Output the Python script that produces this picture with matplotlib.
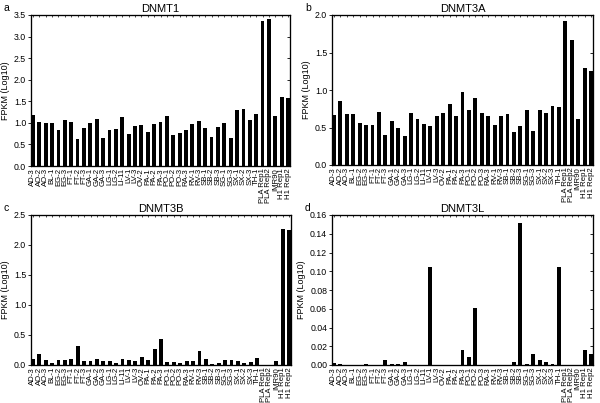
import matplotlib
matplotlib.use("Agg")
import matplotlib.pyplot as plt
import numpy as np

plt.rcParams['font.family'] = ['Liberation Sans', 'DejaVu Sans']

samples = ["AD-3", "AO-2", "AO-3", "BL-1", "EG-2", "EG-3", "FT-1", "FT-2", "FT-3",
           "GA-1", "GA-2", "GA-3", "LG-1", "LG-2", "LI-11", "LV-1", "LV-3", "OV-2",
           "PA-1", "PA-2", "PA-3", "PO-1", "PO-2", "PO-3", "RA-3", "RV-1", "RV-3",
           "SB-1", "SB-2", "SB-3", "SG-1", "SG-3", "SX-1", "SX-2", "SX-3", "TH-1",
           "PLA Rep1", "PLA Rep2", "IMR90", "H1 Rep1", "H1 Rep2"]

dnmt1 = [1.19, 1.02, 0.99, 0.99, 0.83, 1.07, 1.02, 0.62, 0.88, 0.99, 1.09, 0.64,
         0.84, 0.86, 1.14, 0.74, 0.92, 0.95, 0.78, 0.98, 1.02, 1.16, 0.73, 0.76,
         0.83, 0.98, 1.05, 0.88, 0.67, 0.91, 1.00, 0.66, 1.29, 1.32, 1.07, 1.21,
         3.36, 3.41, 1.16, 1.60, 1.57]

dnmt3a = [0.67, 0.86, 0.68, 0.68, 0.56, 0.53, 0.53, 0.71, 0.40, 0.59, 0.50, 0.39,
          0.70, 0.62, 0.55, 0.52, 0.66, 0.69, 0.81, 0.65, 0.97, 0.74, 0.89, 0.69,
          0.65, 0.54, 0.65, 0.68, 0.44, 0.52, 0.73, 0.46, 0.73, 0.70, 0.79, 0.77,
          1.92, 1.67, 0.62, 1.29, 1.26]

dnmt3b = [0.095, 0.18, 0.085, 0.035, 0.09, 0.08, 0.10, 0.31, 0.06, 0.07, 0.10, 0.075,
          0.06, 0.035, 0.095, 0.09, 0.07, 0.13, 0.085, 0.265, 0.43, 0.045, 0.045, 0.035,
          0.07, 0.07, 0.24, 0.105, 0.01, 0.035, 0.08, 0.08, 0.075, 0.04, 0.055, 0.12,
          0.005, 0.005, 0.06, 2.26, 2.245]

dnmt3l = [0.002, 0.001, 0.0003, 0.0, 0.0, 0.0015, 0.0005, 0.0005, 0.005, 0.0015, 0.0008,
          0.003, 0.0, 0.0002, 0.0002, 0.105, 0.0005, 0.0, 0.0002, 0.0005, 0.0158, 0.0082,
          0.061, 0.0002, 0.0005, 0.0, 0.0002, 0.0, 0.003, 0.152, 0.0015, 0.0115, 0.0055,
          0.003, 0.0015, 0.105, 0.0, 0.0, 0.0002, 0.0163, 0.0115]

panels = [
    ("a", "DNMT1", dnmt1, 3.5, np.arange(0, 3.51, 0.5), "%.1f"),
    ("b", "DNMT3A", dnmt3a, 2.0, np.arange(0, 2.01, 0.5), "%.1f"),
    ("c", "DNMT3B", dnmt3b, 2.5, np.arange(0, 2.51, 0.5), "%.1f"),
    ("d", "DNMT3L", dnmt3l, 0.16, np.arange(0, 0.161, 0.02), "%.2f"),
]

W, H = 600, 403
# axes boxes in pixels: left, top, right, bottom
boxes = [(31, 15, 290, 166), (332, 15, 593, 165),
         (31, 215, 291, 365), (332, 215, 593, 365)]

fig = plt.figure(figsize=(6, 4.03), dpi=100)
x = np.arange(len(samples))

for (letter, title, vals, ymax, yt, fmt), (l, t, r, b) in zip(panels, boxes):
    ax = fig.add_axes([l / W, 1 - b / H, (r - l) / W, (b - t) / H])
    ax.bar(x, vals, width=0.6, color='black')
    ax.set_xlim(-0.3, len(samples) - 0.7)
    ax.set_ylim(0, ymax)
    ax.set_yticks(yt)
    ax.set_yticklabels([fmt % v for v in yt], fontsize=6.3)
    ax.set_xticks(x)
    ax.set_xticklabels(samples, rotation=90, fontsize=5.6)
    ax.tick_params(axis='x', length=0, pad=1.5, top=True)
    ax.tick_params(axis='x', which='major', top=True, direction='in')
    ax.tick_params(axis='y', direction='out', length=2, pad=1.5, width=0.6)
    ax.set_ylabel("FPKM (Log10)", fontsize=6.5, labelpad=3)
    ax.set_title(title, fontsize=8, pad=2)
    for s in ax.spines.values():
        s.set_linewidth(0.8)

    # right-side inward ticks and small top ticks
    ax2 = ax.twinx()
    ax2.set_ylim(0, ymax)
    ax2.set_yticks(yt)
    ax2.tick_params(axis='y', direction='in', length=2, width=0.6, labelright=False)
    ax3 = ax.twiny()
    ax3.set_xlim(ax.get_xlim())
    ax3.set_xticks(x)
    ax3.tick_params(axis='x', direction='in', length=1.5, width=0.5, labeltop=False)

    fig.text((l - 27) / W, 1 - (t - 7) / H, letter, fontsize=7.5, va='center', ha='left')

fig.savefig("out.png", dpi=100)
